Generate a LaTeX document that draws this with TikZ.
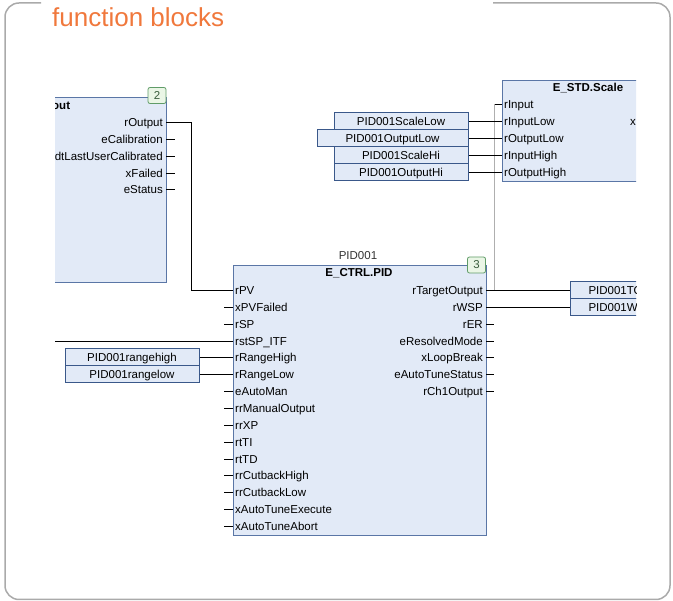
\documentclass[tikz,border=0pt]{standalone}
\usepackage{fontspec}
\setmainfont{Liberation Sans}
\usetikzlibrary{positioning}

\definecolor{fbfill}{RGB}{226,234,247}
\definecolor{fbedge}{RGB}{90,118,166}
\definecolor{varedge}{RGB}{58,88,138}
\definecolor{tagedge}{RGB}{96,156,104}
\definecolor{tagfill}{RGB}{234,246,230}
\definecolor{headorange}{RGB}{240,120,60}
\definecolor{framegrey}{RGB}{170,170,170}
\definecolor{tapgrey}{RGB}{175,175,175}

\newcommand\pinfont{\fontsize{11.5}{13}\selectfont}

\tikzset{
  fbblock/.style={draw=fbedge, fill=fbfill, line width=1.3pt, inner sep=0pt, anchor=north west},
  fbtitle/.style={font=\pinfont\bfseries, inner sep=0pt, text height=8pt, text depth=0pt},
  pinin/.style={anchor=west, inner sep=0pt, text height=8pt, text depth=0pt, font=\pinfont},
  pinout/.style={anchor=east, inner sep=0pt, text height=8pt, text depth=0pt, font=\pinfont},
  varbox/.style={draw=varedge, fill=fbfill, line width=1pt, minimum height=17pt, inner sep=0pt,
    text height=8pt, text depth=0pt, font=\pinfont},
  tagbox/.style={draw=tagedge, fill=tagfill, line width=0.8pt, rounded corners=2pt, minimum width=18pt,
    minimum height=16pt, inner sep=0pt, font=\pinfont, text=tagedge!60!black},
  wire/.style={line width=1.2pt, black},
  tapwire/.style={line width=1pt, tapgrey},
}

\begin{document}
\begin{tikzpicture}[x=1pt, y=-1pt]
  \useasboundingbox (0,0) rectangle (673,601);
  \draw[framegrey, line width=1.5pt, rounded corners=14pt]
    (41,3) -- (5,3) -- (5,599.5) -- (670,599.5) -- (670,3) -- (493,3);
  \node[anchor=base west, inner sep=0pt, text=headorange, font=\fontsize{26}{30}\selectfont]
    (heading) at (52,27) {function blocks};

  \begin{scope}
    \clip (55,40) rectangle (636,590);

    \node[fbblock, minimum width=146pt, minimum height=185pt] (calib) at (20,97) {};
    \node[fbtitle, anchor=west] (calibTitle) at (52,106) {out};
    \node[tagbox] (calibTag) at (157,95.5) {2};
    \foreach \n [count=\i from 0] in {rOutput, eCalibration, dtLastUserCalibrated, xFailed, eStatus} {
      \coordinate (calib-out\i) at (166,{round(122+16.85*\i)+0.5});
      \node[pinout] (calib-lbl\i) at (163,{round(122+16.85*\i)+0.5}) {\n};
      \draw[wire] (calib-out\i) -- ++(9,0);
    }

    \node[fbblock, minimum width=175pt, minimum height=101pt] (scale) at (502,80) {};
    \node[fbtitle] (scaleTitle) at (588,88) {E\_STD.Scale};
    \node[pinin] (scaleOut) at (630,121.5) {x};
    \foreach \n [count=\i from 0] in {rInput, rInputLow, rOutputLow, rInputHigh, rOutputHigh} {
      \coordinate (scale-in\i) at (502,{104.5+17*\i});
      \node[pinin] (scale-lbl\i) at (504,{104.5+17*\i}) {\n};
    }

    \node[fbblock, minimum width=253pt, minimum height=270pt] (pid) at (233,265) {};
    \node[font=\pinfont, inner sep=0pt, text=black!80] (pidName) at (358,256) {PID001};
    \node[fbtitle] (pidTitle) at (359,273) {E\_CTRL.PID};
    \node[tagbox] (pidTag) at (476.5,265) {3};
    \foreach \n [count=\i from 0] in {rPV, xPVFailed, rSP, rstSP\_ITF, rRangeHigh, rRangeLow, eAutoMan,
        rrManualOutput, rrXP, rtTI, rtTD, rrCutbackHigh, rrCutbackLow, xAutoTuneExecute, xAutoTuneAbort} {
      \coordinate (pid-in\i) at (233,{round(290+16.85*\i)+0.5});
      \node[pinin] (pid-lbl-in\i) at (235,{round(290+16.85*\i)+0.5}) {\n};
      \draw[wire] (pid-in\i) -- ++(-9,0);
    }
    \foreach \n [count=\i from 0] in {rTargetOutput, rWSP, rER, eResolvedMode, xLoopBreak,
        eAutoTuneStatus, rCh1Output} {
      \coordinate (pid-out\i) at (486,{round(290+16.85*\i)+0.5});
      \node[pinout] (pid-lbl-out\i) at (483,{round(290+16.85*\i)+0.5}) {\n};
      \draw[wire] (pid-out\i) -- ++(8,0);
    }

    \node[varbox, minimum width=134pt] (scaleLow) at (401,121.5) {PID001ScaleLow};
    \node[varbox, minimum width=151pt] (outputLow) at (392.5,138.5) {PID001OutputLow};
    \node[varbox, minimum width=134pt] (scaleHi) at (401,155.5) {PID001ScaleHi};
    \node[varbox, minimum width=134pt] (outputHi) at (401,172.5) {PID001OutputHi};
    \node[varbox, minimum width=134pt] (rangeHigh) at (132,357.5) {PID001rangehigh};
    \node[varbox, minimum width=134pt] (rangeLow) at (132,374.5) {PID001rangelow};
    \node[varbox, anchor=west, inner xsep=18pt, text width=110pt, align=left] (targetOut)
      at (570,290.5) {PID001TO};
    \node[varbox, anchor=west, inner xsep=18pt, text width=110pt, align=left] (wsp)
      at (570,307.5) {PID001W};
    \coordinate (spSource) at (40,341.5);

    \draw[tapwire] (scale-in0) ++(-7.5,0) coordinate (tap) -- (tap |- pid-out0);
    \draw[wire] (scale-in0) -- (tap);
    \draw[wire] (calib-out0) -- ++(25.5,0) |- (pid-in0);
    \draw[wire] (spSource) -- (pid-in3);
    \draw[wire] (rangeHigh.east) -- (pid-in4);
    \draw[wire] (rangeLow.east) -- (pid-in5);
    \draw[wire] (scaleLow.east) -- (scale-in1);
    \draw[wire] (outputLow.east) -- (scale-in2);
    \draw[wire] (scaleHi.east) -- (scale-in3);
    \draw[wire] (outputHi.east) -- (scale-in4);
    \draw[wire] (pid-out0) -- (pid-out0 -| targetOut.west);
    \draw[wire] (pid-out1) -- (pid-out1 -| wsp.west);
  \end{scope}
\end{tikzpicture}
\end{document}
